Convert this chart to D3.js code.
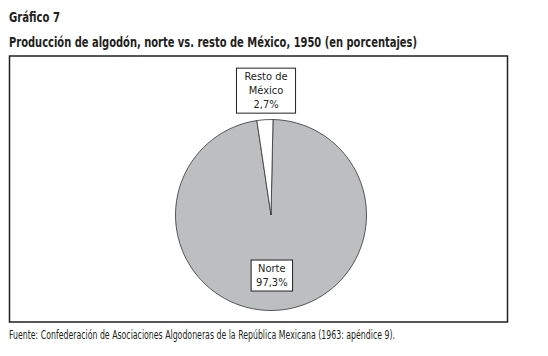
<!DOCTYPE html>
<html>
<head>
<meta charset="utf-8">
<script src="https://cdn.jsdelivr.net/npm/d3@7"></script>
<style>
  body { margin: 0; background: #fff; }
  text { font-family: "Liberation Sans Narrow", "DejaVu Sans Condensed", "Liberation Sans", sans-serif; fill: #231f20; }
</style>
</head>
<body>
<script>
// Gráfico 7 -- pastel norte vs resto

let categories = ['Norte', 'Resto de México']
let values = [97.3, 2.7]
let labelLines = [['Norte', '97,3%'], ['Resto de', 'México', '2,7%']]
let titleLines = ['Gráfico 7', 'Producción de algodón, norte vs. resto de México, 1950 (en porcentajes)']
let sourceText = 'Fuente: Confederación de Asociaciones Algodoneras de la República Mexicana (1963: apéndice 9).'

let W = 548
let H = 356
let cx = 271
let cy = 215
let R = 95.5
let colors = ['#bdbec0', '#ffffff']

let svg = d3.select('body').append('svg')
  .attr('width', W)
  .attr('height', H)

// titulos
svg.append('text')
  .attr('x', 9).attr('y', 22)
  .attr('font-size', '13.5px').attr('font-weight', 'bold')
  .attr('textLength', 51).attr('lengthAdjust', 'spacingAndGlyphs')
  .text(titleLines[0])
svg.append('text')
  .attr('x', 9).attr('y', 47)
  .attr('font-size', '13.5px').attr('font-weight', 'bold')
  .attr('textLength', 408).attr('lengthAdjust', 'spacingAndGlyphs')
  .text(titleLines[1])

// marco
svg.append('rect')
  .attr('x', 9.5).attr('y', 56)
  .attr('width', 498).attr('height', 266)
  .attr('fill', 'none')
  .attr('stroke', '#231f20')
  .attr('stroke-width', 1.5)

// fuente
svg.append('text')
  .attr('x', 9).attr('y', 339)
  .attr('font-size', '11.5px')
  .attr('textLength', 386).attr('lengthAdjust', 'spacingAndGlyphs')
  .text(sourceText)

// pastel
let rot = 1.2 * Math.PI / 180
let pie = d3.pie().sort(null).startAngle(rot).endAngle(rot + 2 * Math.PI)
let arcs = pie(values)
let arc = d3.arc().innerRadius(0).outerRadius(R)

let g = svg.append('g').attr('transform', 'translate(' + cx + ',' + cy + ')')
g.selectAll('path')
  .data(arcs)
  .enter()
  .append('path')
  .attr('d', arc)
  .attr('fill', function (d, i) { return colors[i] })
  .attr('stroke', '#333')
  .attr('stroke-width', 0.8)

// etiquetas en caja
let labelRadius = [0.63, 1.31]
let labelPad = [5, 8]
let lineH = 14
arcs.forEach(function (d, i) {
  let a = (d.startAngle + d.endAngle) / 2
  let r = R * labelRadius[i]
  let lx = Math.sin(a) * r + (i === 0 ? -3 : 3)
  let ly = -Math.cos(a) * r
  let lines = labelLines[i]
  let lg = g.append('g').attr('transform', 'translate(' + lx + ',' + ly + ')')
  let t = lg.append('text')
    .attr('text-anchor', 'middle')
    .attr('font-size', '11px')
  lines.forEach(function (s, k) {
    t.append('tspan')
      .attr('x', 0)
      .attr('y', (k - (lines.length - 1) / 2) * lineH + 4)
      .text(s)
  })
  let bb = t.node().getBBox()
  lg.insert('rect', 'text')
    .attr('x', bb.x - labelPad[i])
    .attr('y', bb.y - 2)
    .attr('width', bb.width + 2 * labelPad[i])
    .attr('height', bb.height + 4)
    .attr('fill', '#fff')
    .attr('stroke', '#231f20')
    .attr('stroke-width', 1)
})
</script>
</body>
</html>
